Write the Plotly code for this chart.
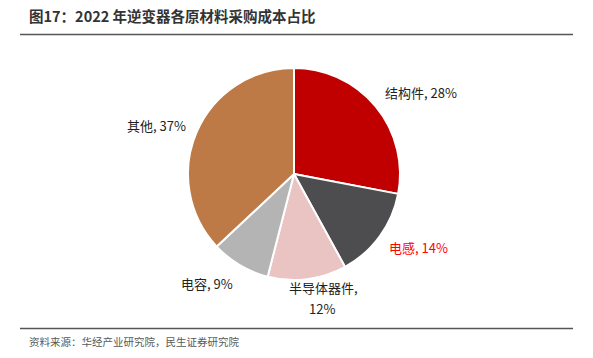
import plotly.graph_objects as go

categories = ["结构件", "电感", "半导体器件", "电容", "其他"]
values = [28, 14, 12, 9, 37]
colors = ["#C00000", "#4D4D4F", "#EAC3C3", "#B4B4B4", "#BE7A46"]
label_texts = ["结构件, 28%", "电感, 14%", "半导体器件,", "12%", "电容, 9%", "其他, 37%"]
label_colors = ["#222222", "#FF0000", "#222222", "#222222", "#222222", "#222222"]
# label centre positions in pixels (x, y from top)
label_pos = [(421, 93), (418, 247), (323, 287), (322, 308), (207, 283), (156, 125)]

W, H = 593, 358
cx, cy, r = 294, 174, 106

fig = go.Figure()
fig.add_trace(go.Pie(
    labels=categories, values=values, sort=False, direction="clockwise", rotation=0,
    marker=dict(colors=colors, line=dict(color="white", width=2)),
    textinfo="none", hoverinfo="label+percent", showlegend=False,
    domain=dict(x=[(cx - r) / W, (cx + r) / W], y=[(H - cy - r) / H, (H - cy + r) / H]),
))

font_family = "Noto Sans CJK SC, Microsoft YaHei, sans-serif"
for t, c, (x, y) in zip(label_texts, label_colors, label_pos):
    fig.add_annotation(x=x / W, y=1 - y / H, xref="paper", yref="paper", text=t,
                       showarrow=False, font=dict(size=13, color=c, family=font_family),
                       xanchor="center", yanchor="middle")

fig.add_annotation(x=27 / W, y=1 - 15 / H, xref="paper", yref="paper",
                   text="<b>图17：2022 年逆变器各原材料采购成本占比</b>", showarrow=False,
                   font=dict(size=14.5, color="#333333", family=font_family),
                   xanchor="left", yanchor="middle")
fig.add_annotation(x=27 / W, y=1 - 341 / H, xref="paper", yref="paper",
                   text="资料来源：华经产业研究院，民生证券研究院", showarrow=False,
                   font=dict(size=10.5, color="#595959", family=font_family),
                   xanchor="left", yanchor="middle")

fig.add_shape(type="line", xref="paper", yref="paper", x0=20 / W, x1=573 / W,
              y0=1 - 34.5 / H, y1=1 - 34.5 / H, line=dict(color="#555555", width=1.5))
fig.add_shape(type="line", xref="paper", yref="paper", x0=20 / W, x1=573 / W,
              y0=1 - 328.5 / H, y1=1 - 328.5 / H, line=dict(color="#555555", width=1.5))

fig.update_layout(width=W, height=H, margin=dict(l=0, r=0, t=0, b=0),
                  paper_bgcolor="white", plot_bgcolor="white")
fig.write_html("out.html", config={"displayModeBar": False},
               post_script="document.body.style.margin='0';")
